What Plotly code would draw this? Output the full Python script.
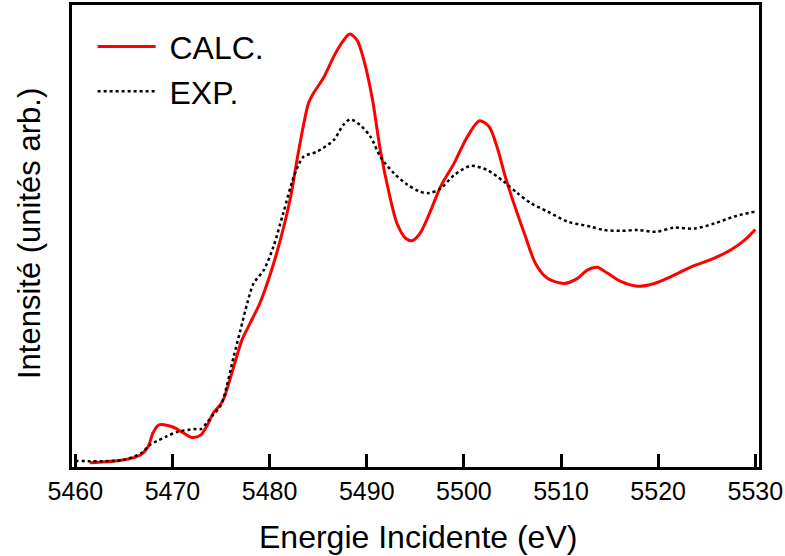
import plotly.graph_objects as go

# CALC. (red solid)
calc_x = [5461.5, 5464.9, 5466.7, 5467.5, 5468.0, 5468.6, 5470.1, 5471.1, 5472.0, 5472.9,
          5473.6, 5474.2, 5474.9, 5475.3, 5476.3, 5477.15, 5478.0, 5479.0, 5480.1, 5481.1,
          5482.1, 5483.0, 5484.0, 5484.5, 5485.6, 5486.6, 5487.5, 5488.25, 5489.0, 5489.7,
          5490.6, 5491.4, 5492.3, 5493.1, 5494.0, 5494.7, 5495.5, 5496.6, 5497.6, 5499.0,
          5500.35, 5501.6, 5502.6, 5503.4, 5504.3, 5505.3, 5506.3, 5507.4, 5508.6, 5510.3,
          5511.7, 5512.7, 5513.7, 5514.8, 5516.2, 5517.9, 5519.6, 5521.65, 5523.4, 5525.8,
          5527.5, 5528.9, 5530.0]
calc_y = [0.7, 1.3, 2.4, 4.2, 7.2, 8.9, 8.4, 7.2, 6.2, 6.7,
          8.9, 11.5, 13.2, 14.7, 21.5, 27.3, 31.0, 35.3, 41.8, 49.0,
          57.7, 68.5, 78.7, 80.8, 84.4, 88.8, 92.0, 93.7, 92.4, 88.1,
          79.4, 68.5, 59.2, 52.7, 49.4, 48.9, 50.5, 55.5, 60.6, 65.7,
          71.4, 74.9, 73.6, 69.3, 62.5, 56.0, 50.0, 43.8, 40.7, 39.6,
          40.7, 42.5, 43.1, 41.8, 40.0, 39.0, 39.6, 41.4, 43.2, 45.1,
          46.9, 49.0, 51.3]

# EXP. (black dotted)
exp_x = [5460.0, 5464.9, 5466.8, 5467.7, 5468.4, 5469.4, 5470.5, 5472.2, 5472.9, 5473.5,
         5474.2, 5474.9, 5475.3, 5476.3, 5477.0, 5477.7, 5478.35, 5479.4, 5480.4, 5481.4,
         5482.5, 5483.5, 5484.9, 5486.6, 5487.6, 5488.3, 5489.3, 5490.4, 5491.4, 5492.8,
         5494.2, 5495.5, 5496.4, 5497.6, 5499.0, 5500.7, 5502.4, 5504.1, 5505.5, 5506.9,
         5508.6, 5510.7, 5513.1, 5514.4, 5516.2, 5517.9, 5519.8, 5521.6, 5523.7, 5525.8,
         5527.8, 5530.0]
exp_y = [1.1, 1.3, 2.8, 4.6, 5.4, 6.4, 7.4, 8.0, 8.0, 9.3,
         11.1, 12.9, 15.0, 23.7, 29.5, 35.3, 39.6, 42.5, 47.6, 54.8,
         62.8, 67.1, 68.2, 70.7, 74.0, 75.2, 74.0, 71.4, 67.1, 63.5,
         61.0, 59.5, 59.2, 60.2, 63.1, 65.1, 64.2, 61.7, 59.2, 57.0,
         55.2, 53.0, 51.9, 51.2, 51.0, 51.2, 50.8, 51.7, 51.5, 52.6,
         54.1, 55.2]

x_ticks = [5460, 5470, 5480, 5490, 5500, 5510, 5520, 5530]

x_title = "Energie Incidente (eV)"
y_title = "Intensité (unités arb.)"

FONT = "Liberation Sans, Arial, sans-serif"

fig = go.Figure()
fig.add_trace(go.Scatter(x=calc_x, y=calc_y, mode="lines", name="\u00a0CALC.",
                         line=dict(color="#ff0000", width=3, shape="spline", smoothing=0.8)))
fig.add_trace(go.Scatter(x=exp_x, y=exp_y, mode="lines", name="\u00a0EXP.",
                         line=dict(color="#000000", width=2.5, dash="dot", shape="spline", smoothing=0.8)))

fig.update_layout(
    width=785, height=556,
    margin=dict(l=72, r=26, t=5, b=89, autoexpand=False),
    paper_bgcolor="white", plot_bgcolor="white",
    font=dict(family=FONT, color="black"),
    showlegend=True,
    legend=dict(x=0.03, y=0.969, xanchor="left", yanchor="top",
                font=dict(size=32, family=FONT, color="black"),
                bgcolor="rgba(0,0,0,0)", itemwidth=58, tracegroupgap=0),
    xaxis=dict(range=[5459.66, 5530.38], tickvals=x_ticks, ticks="inside", ticklen=13,
               tickwidth=2.5, tickcolor="black", showline=True, linecolor="black",
               linewidth=2.5, mirror=True, showgrid=False, zeroline=False, automargin=False,
               tickfont=dict(size=25, family=FONT, color="black")),
    yaxis=dict(range=[-0.22, 100], showticklabels=False, ticks="", showline=True,
               linecolor="black", linewidth=2.5, mirror=True, showgrid=False, zeroline=False,
               automargin=False),
    annotations=[
        dict(text=x_title, xref="paper", yref="paper", x=(417.5 - 72) / 687, y=(467 - 537) / 462,
             xanchor="center", yanchor="middle", showarrow=False,
             font=dict(size=32, family=FONT, color="black")),
        dict(text=y_title, xref="paper", yref="paper", x=(29 - 72) / 687, y=(467 - 234) / 462,
             xanchor="center", yanchor="middle", showarrow=False, textangle=-90,
             font=dict(size=31, family=FONT, color="black")),
    ],
)

fig.write_html("out.html", config={"displayModeBar": False},
               post_script="document.body.style.margin='0px';")
